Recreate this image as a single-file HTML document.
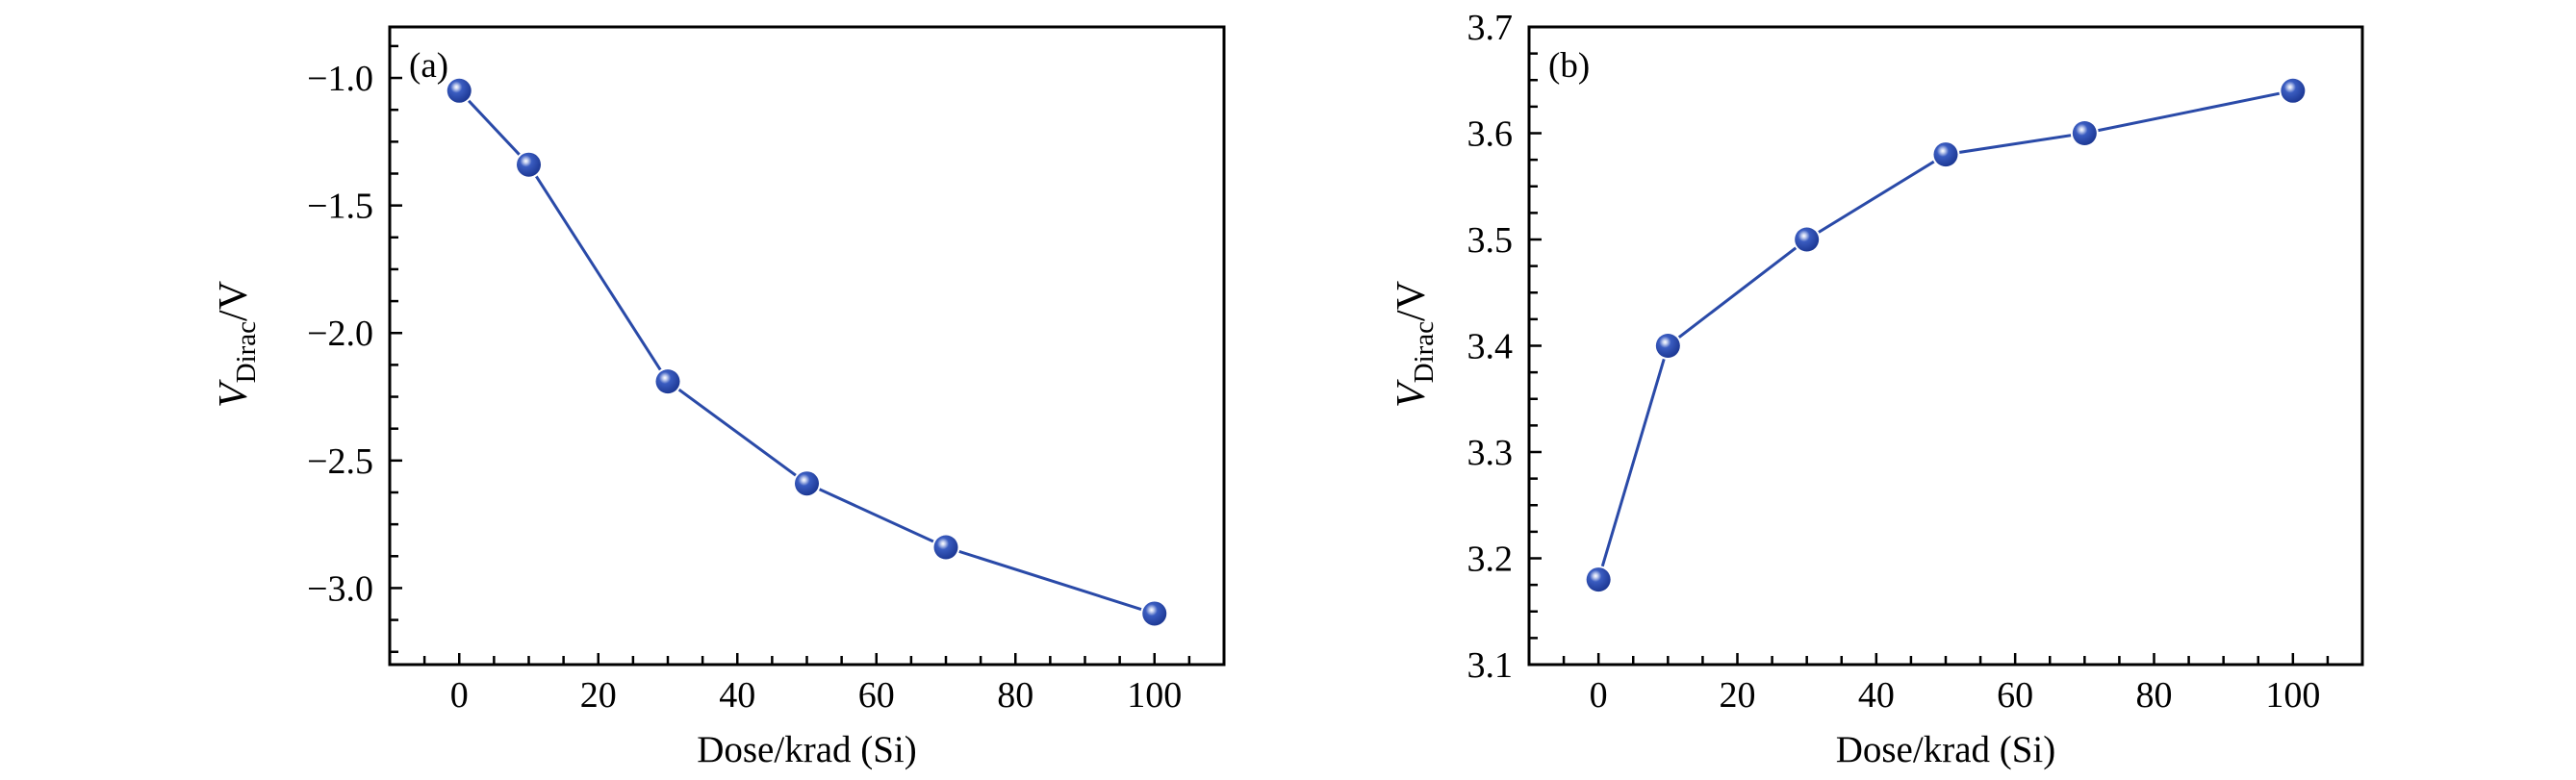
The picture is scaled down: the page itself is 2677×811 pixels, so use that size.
<!DOCTYPE html>
<html><head><meta charset="utf-8"><style>
html,body{margin:0;padding:0;background:#fff;}
svg{display:block;}
text{font-family:"Liberation Serif",serif;fill:#000;}
</style></head><body>
<svg width="2677" height="811" viewBox="0 0 2677 811" xmlns="http://www.w3.org/2000/svg">
<defs>
<radialGradient id="ball" cx="0.38" cy="0.35" r="0.7">
<stop offset="0" stop-color="#ffffff"/>
<stop offset="0.12" stop-color="#c8d2f0"/>
<stop offset="0.35" stop-color="#3a5cc0"/>
<stop offset="1" stop-color="#1a3590"/>
</radialGradient>
</defs>
<script>
(function(){
var ns="http://www.w3.org/2000/svg",svg=document.querySelector("svg");
function el(t,a,txt){var e=document.createElementNS(ns,t);for(var k in a)e.setAttribute(k,a[k]);if(txt!=null)e.textContent=txt;svg.appendChild(e);return e;}
function panel(L,R,T,B,x0,x1,y0,y1,ymaj,ymin,yfmt,data,lab){
 var X=function(v){return L+(v-x0)/(x1-x0)*(R-L);},Y=function(v){return B-(v-y0)/(y1-y0)*(B-T);};
 el("rect",{x:L,y:T,width:R-L,height:B-T,fill:"none",stroke:"#000","stroke-width":3});
 for(var v=-5;v<=105;v+=5){var x=X(v),mj=(v%20===0&&v>=0);el("line",{x1:x,x2:x,y1:B,y2:B-(mj?12:9),stroke:"#000","stroke-width":2.5});
  if(mj)el("text",{x:x,y:735,"font-size":38,"text-anchor":"middle"},String(v));}
 var k0=Math.ceil(y0/ymin-1e-6),k1=Math.floor(y1/ymin+1e-6),r=Math.round(ymaj/ymin);
 for(var k=k0;k<=k1;k++){var v=k*ymin,y=Y(v),mj=(((k%r)+r)%r===0);
  el("line",{x1:L,x2:L+(mj?13:9),y1:y,y2:y,stroke:"#000","stroke-width":2.5});
  if(mj)el("text",{x:L-17,y:y+13,"font-size":38,"text-anchor":"end"},yfmt(v));}
 var pts=data.map(function(d){return X(d[0])+","+Y(d[1]);}).join(" ");
 el("polyline",{points:pts,fill:"none",stroke:"#2a4aa8","stroke-width":3});
 data.forEach(function(d){el("circle",{cx:X(d[0]),cy:Y(d[1]),r:14.5,fill:"#fff"});el("circle",{cx:X(d[0]),cy:Y(d[1]),r:12.5,fill:"url(#ball)"});});
 el("text",{x:L+20,y:80,"font-size":37},lab);
 el("text",{x:(L+R)/2,y:792,"font-size":39,"text-anchor":"middle"},"Dose/krad (Si)");
}
panel(405,1272,28,691,-10,110,-3.3,-0.8,0.5,0.125,function(v){return "\u2212"+Math.abs(v).toFixed(1);},
 [[0,-1.05],[10,-1.34],[30,-2.19],[50,-2.59],[70,-2.84],[100,-3.10]],"(a)");
panel(1589,2455,28,691,-10,110,3.1,3.7,0.1,0.025,function(v){return v.toFixed(1);},
 [[0,3.18],[10,3.40],[30,3.50],[50,3.58],[70,3.60],[100,3.64]],"(b)");
function ylab(cx,cy){var t=el("text",{x:0,y:0,"font-size":42,"text-anchor":"middle",transform:"translate("+cx+","+cy+") rotate(-90)"});
 var a=document.createElementNS(ns,"tspan");a.setAttribute("font-style","italic");a.textContent="V";t.appendChild(a);
 var b=document.createElementNS(ns,"tspan");b.setAttribute("font-size","29");b.setAttribute("dy","9");b.textContent="Dirac";t.appendChild(b);
 var c=document.createElementNS(ns,"tspan");c.setAttribute("dy","-9");c.textContent="/V";t.appendChild(c);}
ylab(256,358);ylab(1480,358);
})();
</script>
</svg>
</body></html>
